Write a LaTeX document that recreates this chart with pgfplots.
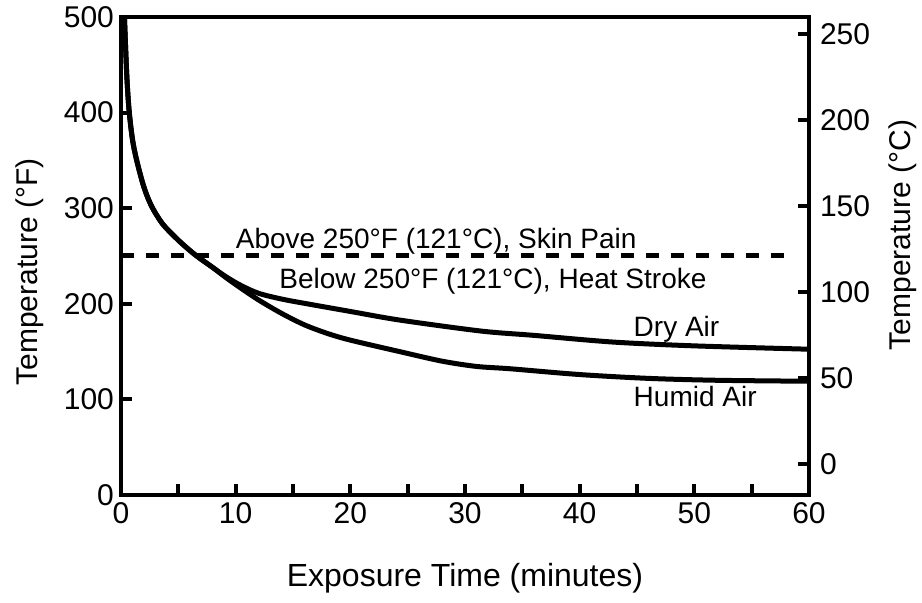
\documentclass[border=0pt]{standalone}
\usepackage{fontspec}
\setmainfont{Liberation Sans}
\usepackage{pgfplots}
\pgfplotsset{compat=1.18}
\begin{document}
\begin{tikzpicture}
\path[use as bounding box] (-60.5pt,-53.5pt) rectangle (400.5pt,247.5pt);
\begin{axis}[
  at={(0,0)}, anchor=south west,
  scale only axis, width=344pt, height=239pt,
  xmin=0, xmax=60, ymin=0, ymax=500,
  axis line style={line width=2pt},
  xtick pos=bottom, ytick pos=left,
  tick align=inside,
  major tick length=5.5pt, minor tick length=5.5pt,
  every tick/.style={line width=2pt, black},
  xtick={0,10,...,60}, minor xtick={5,15,...,55},
  ytick={0,100,...,500},
  /pgf/number format/assume math mode=true,
  tick label style={font=\fontsize{15}{18}\selectfont},
  xlabel={Exposure Time (minutes)},
  xlabel style={font=\fontsize{16}{19}\selectfont, at={(rel axis cs:0.5,-0.1736)}, anchor=center},
  ylabel={Temperature (°F)},
  ylabel style={font=\fontsize{15}{18}\selectfont, at={(rel axis cs:-0.1323,0.4665)}, anchor=center, rotate=0},
]
\addplot[black, line width=2.5pt, smooth, tension=0.5] coordinates {
(0.3,500) (0.5,440) (0.7,403) (1.0,372) (1.37,350) (2.0,322) (2.67,302) (3.6,284) (4.7,270) (5.6,260) (6.6,250) (8,238) (9.2,228) (10.5,219) (12,211) (14,205) (16,200.5) (20,192) (24.3,183) (31.4,171.5) (36,167) (42.9,160) (50,156) (60,152.5)
};
\addplot[black, line width=2.5pt, smooth, tension=0.5] coordinates {
(0.3,500) (0.5,440) (0.7,403) (1.0,372) (1.37,350) (2.0,322) (2.67,302) (3.6,284) (4.7,270) (5.6,260) (6.6,250) (8,238) (9.2,227) (10.5,216) (12,204) (14,190) (16,178) (18,169) (20,162) (24.3,150) (28,140) (31,134.5) (34,132) (40,126) (46,122) (52,120) (60,119)
};
\addplot[black, line width=2.5pt, dash pattern=on 6.5pt off 6pt] coordinates {(0,251) (58.6,251)};
\node[anchor=base west, font=\fontsize{14}{17}\selectfont] at (axis cs:9.4,258) {Above 250°F (121°C), Skin Pain};
\node[anchor=base west, font=\fontsize{14}{17}\selectfont] at (axis cs:13.2,216) {Below 250°F (121°C), Heat Stroke};
\node[anchor=base west, font=\fontsize{14}{17}\selectfont] at (axis cs:44.1,165.6) {Dry Air};
\node[anchor=base west, font=\fontsize{14}{17}\selectfont] at (axis cs:44.1,92.4) {Humid Air};
\end{axis}
\begin{axis}[
  at={(0,0)}, anchor=south west,
  scale only axis, width=344pt, height=239pt,
  xmin=0, xmax=60, ymin=-17.7778, ymax=260,
  axis x line=none, axis y line*=right,
  axis line style={line width=2pt},
  tick align=inside,
  major tick length=5.5pt,
  every tick/.style={line width=2pt, black},
  ytick={0,50,...,250},
  /pgf/number format/assume math mode=true,
  tick label style={font=\fontsize{15}{18}\selectfont},
  yticklabel style={xshift=2pt},
  ylabel={Temperature (°C)},
  ylabel style={font=\fontsize{15}{18}\selectfont, at={(rel axis cs:1.1366,0.544)}, anchor=center, rotate=0},
]
\end{axis}
\end{tikzpicture}
\end{document}
